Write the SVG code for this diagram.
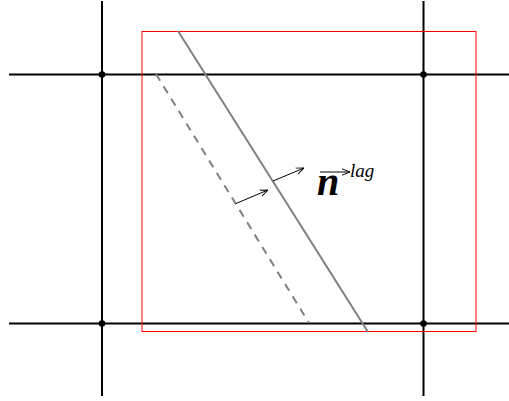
<svg xmlns="http://www.w3.org/2000/svg" width="509" height="401" viewBox="0 0 509 401">
<style>
.grid{stroke:#000;stroke-width:2;fill:none}
.node{fill:#000}
.box{stroke:#ff0000;stroke-width:1;fill:none}
.iface{stroke:#808080;stroke-width:2;fill:none}
.dash{stroke-dasharray:8 6.5}
.vec{stroke:#000;stroke-width:1;fill:none}
.lbl{font-family:"Liberation Serif","DejaVu Serif",serif;font-style:italic;fill:#000}
</style>
<defs>
<marker id="open" viewBox="0 0 10 10" refX="10" refY="5" markerWidth="8" markerHeight="8" markerUnits="userSpaceOnUse" orient="auto">
<path d="M0,1 L10,5 L0,9" fill="none" stroke="#000" stroke-width="1.2"/>
</marker>
</defs>
<g id="grid">
<line class="grid" x1="9" y1="74.5" x2="509" y2="74.5"/>
<line class="grid" x1="9" y1="323.5" x2="509" y2="323.5"/>
<line class="grid" x1="102" y1="1" x2="102" y2="396"/>
<line class="grid" x1="423.5" y1="1" x2="423.5" y2="396"/>
</g>
<g id="nodes">
<circle class="node" cx="102" cy="74.5" r="3.3"/>
<circle class="node" cx="423.5" cy="74.5" r="3.3"/>
<circle class="node" cx="102" cy="323.5" r="3.3"/>
<circle class="node" cx="423.5" cy="323.5" r="3.3"/>
</g>
<g id="cell">
<rect class="box" x="142" y="31.5" width="334" height="300"/>
</g>
<g id="interfaces">
<line class="iface" x1="178" y1="31" x2="368" y2="332"/>
<line class="iface dash" x1="156" y1="74" x2="309" y2="323"/>
</g>
<g id="connectors">
<line class="vec" x1="236" y1="203.5" x2="268" y2="190" marker-end="url(#open)"/>
<line class="vec" x1="273" y1="181" x2="304" y2="168" marker-end="url(#open)"/>
</g>
<g id="label">
<text class="lbl" x="317" y="195" font-size="40" font-weight="bold">n</text>
<line class="vec" x1="320" y1="172" x2="350" y2="172" marker-end="url(#open)"/>
<text class="lbl" x="350" y="177" font-size="19">lag</text>
</g>
</svg>
